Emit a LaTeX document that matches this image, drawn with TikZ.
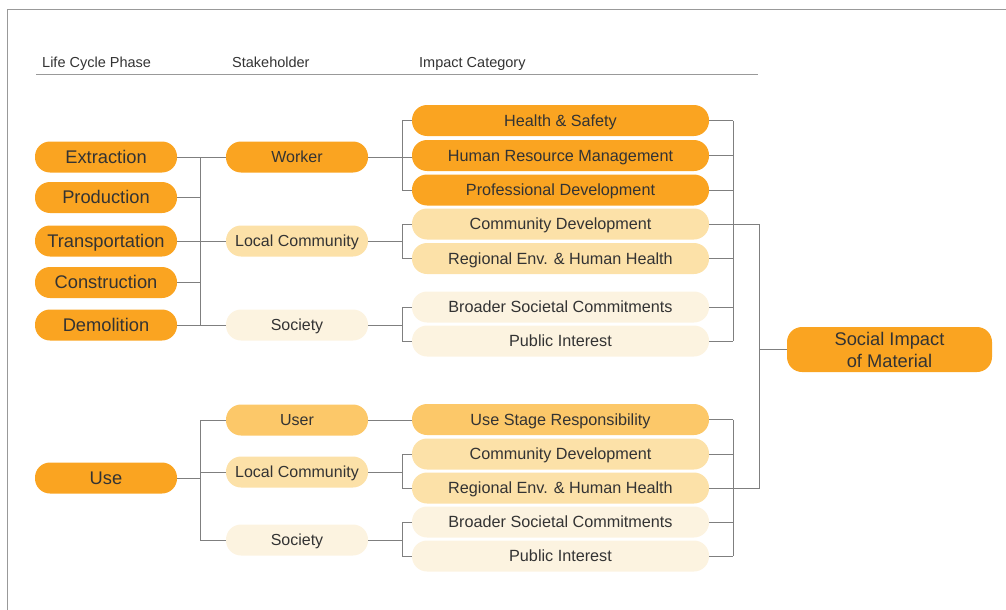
\documentclass[tikz,border=0pt]{standalone}
\usepackage{fontspec}
\setmainfont{Liberation Sans}
\definecolor{fdark}{HTML}{FAA421}
\definecolor{fuser}{HTML}{FCC869}
\definecolor{flight}{HTML}{FCE1A8}
\definecolor{fpale}{HTML}{FCF3E0}
\definecolor{txt}{HTML}{333333}
\definecolor{lineg}{HTML}{7F7F7F}
\begin{document}
\begin{tikzpicture}[x=1pt,y=-1pt,
  pill/.style={rounded corners=15pt, minimum height=31pt, inner sep=0pt, text=txt,
               text depth=0pt},
  phasebox/.style={pill, fill=fdark, minimum width=142pt, text height=12.8pt,
                   font=\fontsize{18.3}{20}\selectfont},
  holder/.style={pill, minimum width=142pt, text height=11.2pt,
                 font=\fontsize{16}{18}\selectfont},
  impact/.style={pill, minimum width=297pt, text height=11.4pt,
                 font=\fontsize{16.2}{18}\selectfont},
  head/.style={anchor=base west, inner sep=0pt, text=txt, font=\fontsize{14.5}{17}\selectfont},
  conn/.style={draw=lineg, line width=0.9pt},
  frame/.style={draw=lineg!80, line width=1pt}]
\useasboundingbox (0,0) rectangle (1006,610);

% outer frame and column headers
\draw[frame] (7.5,610) -- (7.5,10) -- (1006,10);
\node[head] (h1) at (42,67) {Life Cycle Phase};
\node[head] (h2) at (232,67) {Stakeholder};
\node[head] (h3) at (419,67) {Impact Category};
\coordinate (ruleL) at (36,74);
\coordinate (ruleR) at (758,74);
\draw[draw=lineg!80, line width=1pt] (ruleL) -- (ruleR);

% bus positions
\coordinate (busA) at (200,0);
\coordinate (brk) at (402,0);
\coordinate (rbus) at (733,0);
\coordinate (obus) at (759,0);

% life cycle phases
\node[phasebox] (ext) at (106,157) {Extraction};
\node[phasebox] (pro) at (106,197.5) {Production};
\node[phasebox] (tra) at (106,241) {Transportation};
\node[phasebox] (con) at (106,282.5) {Construction};
\node[phasebox] (dem) at (106,325) {Demolition};
\node[phasebox] (use) at (106,478) {Use};

% stakeholders
\node[holder, fill=fdark]  (wor) at (297,157) {Worker};
\node[holder, fill=flight] (lc1) at (297,241) {Local Community};
\node[holder, fill=fpale]  (so1) at (297,325) {Society};
\node[holder, fill=fuser]  (usr) at (297,420) {User};
\node[holder, fill=flight] (lc2) at (297,472) {Local Community};
\node[holder, fill=fpale]  (so2) at (297,540) {Society};

% impact categories, production to demolition
\node[impact, fill=fdark]  (hs)  at (560.5,120.5) {Health \& Safety};
\node[impact, fill=fdark]  (hrm) at (560.5,155.5) {Human Resource Management};
\node[impact, fill=fdark]  (pd)  at (560.5,190) {Professional Development};
\node[impact, fill=flight] (cd1) at (560.5,224) {Community Development};
\node[impact, fill=flight] (rg1) at (560.5,258.5) {Regional Env. \& Human Health};
\node[impact, fill=fpale]  (bs1) at (560.5,307) {Broader Societal Commitments};
\node[impact, fill=fpale]  (pi1) at (560.5,341) {Public Interest};

% impact categories, use stage
\node[impact, fill=fuser]  (usr2) at (560.5,419.5) {Use Stage Responsibility};
\node[impact, fill=flight] (cd2) at (560.5,454) {Community Development};
\node[impact, fill=flight] (rg2) at (560.5,488) {Regional Env. \& Human Health};
\node[impact, fill=fpale]  (bs2) at (560.5,522) {Broader Societal Commitments};
\node[impact, fill=fpale]  (pi2) at (560.5,556) {Public Interest};

% overall result
\node[rounded corners=15pt, fill=fdark, text=txt, inner sep=0pt, minimum width=205pt,
      minimum height=45pt, align=center,
      font=\fontsize{18.3}{22}\selectfont] (soc) at (889.5,349.5) {Social Impact\\of Material};

% phases to stakeholders
\foreach \n in {ext,pro,tra,con,dem}
  \draw[conn] (\n.east) -- (busA|-\n.east);
\draw[conn] (busA|-ext.east) -- (busA|-dem.east);
\foreach \n in {wor,lc1,so1}
  \draw[conn] (busA|-\n.west) -- (\n.west);
\draw[conn] (use.east) -- (busA|-use.east);
\draw[conn] (busA|-usr.west) -- (busA|-so2.west);
\foreach \n in {usr,lc2,so2}
  \draw[conn] (busA|-\n.west) -- (\n.west);

% stakeholders to impact categories
\draw[conn] (wor.east) -- (hrm.west|-wor.east);
\draw[conn] (hs.west) -- (brk|-hs.west) -- (brk|-pd.west) -- (pd.west);
\draw[conn] (lc1.east) -- (brk|-lc1.east);
\draw[conn] (cd1.west) -- (brk|-cd1.west) -- (brk|-rg1.west) -- (rg1.west);
\draw[conn] (so1.east) -- (brk|-so1.east);
\draw[conn] (bs1.west) -- (brk|-bs1.west) -- (brk|-pi1.west) -- (pi1.west);
\draw[conn] (usr.east) -- (usr2.west|-usr.east);
\draw[conn] (lc2.east) -- (brk|-lc2.east);
\draw[conn] (cd2.west) -- (brk|-cd2.west) -- (brk|-rg2.west) -- (rg2.west);
\draw[conn] (so2.east) -- (brk|-so2.east);
\draw[conn] (bs2.west) -- (brk|-bs2.west) -- (brk|-pi2.west) -- (pi2.west);

% impact categories to the overall result
\foreach \n in {hs,hrm,pd,rg1,bs1,pi1,usr2,cd2,bs2,pi2}
  \draw[conn] (\n.east) -- (rbus|-\n.east);
\draw[conn] (rbus|-hs.east) -- (rbus|-pi1.east);
\draw[conn] (rbus|-usr2.east) -- (rbus|-pi2.east);
\draw[conn] (cd1.east) -- (obus|-cd1.east) -- (obus|-rg2.east) -- (rg2.east);
\draw[conn] (obus|-soc.west) -- (soc.west);
\end{tikzpicture}
\end{document}
